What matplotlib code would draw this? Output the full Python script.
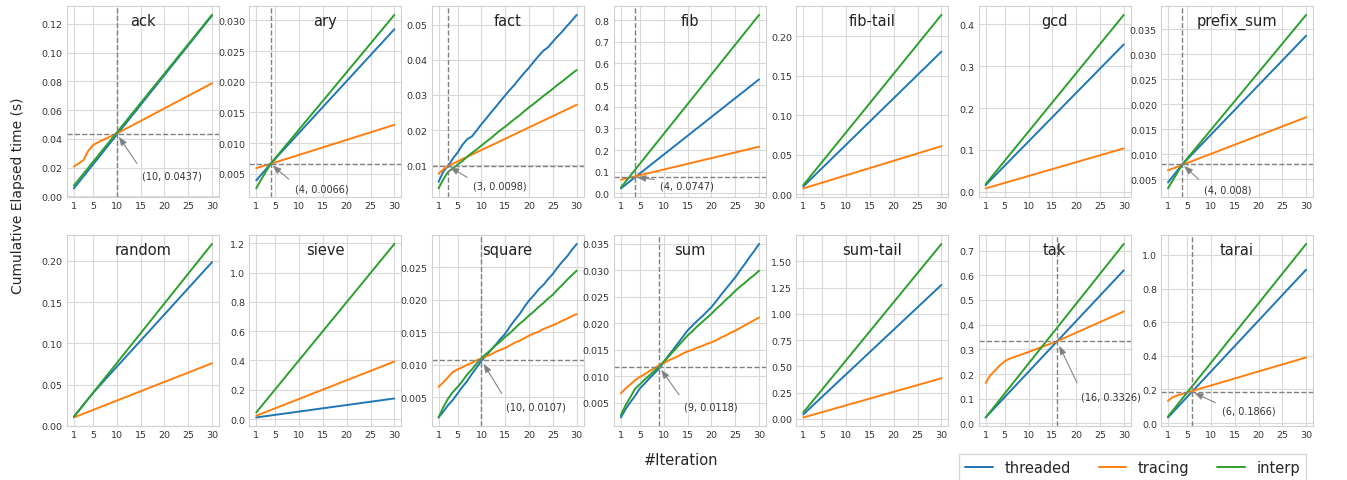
import numpy as np
import matplotlib
matplotlib.use("Agg")
import matplotlib.pyplot as plt
import seaborn as sns

# per-iteration elapsed time (s); plotted as cumulative sums
iters = np.arange(1, 31)
xticks = [1, 5, 10, 15, 20, 25, 30]
series_names = ["threaded", "tracing", "interp"]

ack_thr = [0.0055, 0.0041, 0.0042, 0.0041, 0.0042, 0.0041, 0.0042, 0.0041, 0.0042, 0.0041,
           0.0042, 0.0041, 0.0042, 0.0041, 0.0042, 0.0041, 0.0042, 0.0041, 0.0042, 0.0041,
           0.0042, 0.0041, 0.0042, 0.0041, 0.0042, 0.0041, 0.0042, 0.0041, 0.0042, 0.0041]
ack_trc = [0.0207, 0.0022, 0.0022, 0.0064, 0.0041, 0.0019, 0.0016, 0.0015, 0.0016, 0.0015,
           0.0017, 0.0018, 0.0017, 0.0018, 0.0017, 0.0018, 0.0017, 0.0018, 0.0017, 0.0018,
           0.0017, 0.0018, 0.0017, 0.0018, 0.0017, 0.0018, 0.0017, 0.0018, 0.0017, 0.0018]
ack_int = [0.0075, 0.0040, 0.0042, 0.0040, 0.0042, 0.0040, 0.0042, 0.0040, 0.0042, 0.0040,
           0.0042, 0.0040, 0.0042, 0.0040, 0.0042, 0.0040, 0.0042, 0.0040, 0.0042, 0.0040,
           0.0042, 0.0040, 0.0042, 0.0040, 0.0042, 0.0040, 0.0042, 0.0040, 0.0042, 0.0040]

ary_thr = [0.0039, 0.0009, 0.0009, 0.0009, 0.00084, 0.00085, 0.00084, 0.00085, 0.00084, 0.00085,
           0.00084, 0.00085, 0.00084, 0.00085, 0.00084, 0.00085, 0.00084, 0.00085, 0.00084, 0.00085,
           0.00084, 0.00085, 0.00084, 0.00085, 0.00084, 0.00085, 0.00084, 0.00085, 0.00084, 0.00085]
ary_trc = [0.0059, 0.00024, 0.00023, 0.00023, 0.00025, 0.00024, 0.00025, 0.00024, 0.00025, 0.00024,
           0.00025, 0.00024, 0.00025, 0.00024, 0.00025, 0.00024, 0.00025, 0.00024, 0.00025, 0.00024,
           0.00025, 0.00024, 0.00025, 0.00024, 0.00025, 0.00024, 0.00025, 0.00024, 0.00025, 0.00024]
ary_int = [0.0026, 0.0014, 0.0013, 0.0013, 0.00094, 0.00093, 0.00094, 0.00093, 0.00094, 0.00093,
           0.00094, 0.00093, 0.00094, 0.00093, 0.00094, 0.00093, 0.00094, 0.00093, 0.00094, 0.00093,
           0.00094, 0.00093, 0.00094, 0.00093, 0.00094, 0.00093, 0.00094, 0.00093, 0.00094, 0.00093]

fact_thr = [0.0053, 0.0029, 0.0016, 0.0021, 0.0017, 0.0022, 0.0016, 0.0008, 0.0017, 0.0018,
            0.0016, 0.0017, 0.0016, 0.0017, 0.0016, 0.0016, 0.0015, 0.0017, 0.0016, 0.0015,
            0.0017, 0.0016, 0.0015, 0.0010, 0.0016, 0.0015, 0.0014, 0.0016, 0.0015, 0.0016]
fact_trc = [0.0076, 0.0012, 0.0010, 0.00065, 0.00064, 0.00065, 0.00064, 0.00065, 0.00064, 0.00065,
            0.00064, 0.00065, 0.00064, 0.00065, 0.00064, 0.00065, 0.00064, 0.00065, 0.00064, 0.00065,
            0.00064, 0.00065, 0.00064, 0.00065, 0.00064, 0.00065, 0.00064, 0.00065, 0.00064, 0.00065]
fact_int = [0.0034, 0.0026, 0.0021, 0.0010, 0.0011, 0.0010, 0.0012, 0.0011, 0.0010, 0.0011,
            0.0011, 0.0010, 0.0012, 0.0011, 0.0010, 0.0011, 0.0011, 0.0010, 0.0012, 0.0011,
            0.0010, 0.0011, 0.0011, 0.0010, 0.0011, 0.0011, 0.0010, 0.0011, 0.0011, 0.0010]

fib_thr = [0.0230, 0.0174, 0.0173, 0.0174, 0.0173, 0.0174, 0.0173, 0.0174, 0.0173, 0.0174,
           0.0173, 0.0174, 0.0173, 0.0174, 0.0173, 0.0174, 0.0173, 0.0174, 0.0173, 0.0174,
           0.0173, 0.0174, 0.0173, 0.0174, 0.0173, 0.0174, 0.0173, 0.0174, 0.0173, 0.0174]
fib_trc = [0.0630, 0.0052, 0.0053, 0.0052, 0.0053, 0.0052, 0.0053, 0.0052, 0.0053, 0.0052,
           0.0053, 0.0052, 0.0053, 0.0052, 0.0053, 0.0052, 0.0053, 0.0052, 0.0053, 0.0052,
           0.0053, 0.0052, 0.0053, 0.0052, 0.0053, 0.0052, 0.0053, 0.0052, 0.0053, 0.0052]
fib_int = [0.0276, 0.0274, 0.0275, 0.0274, 0.0275, 0.0274, 0.0275, 0.0274, 0.0275, 0.0274,
           0.0275, 0.0274, 0.0275, 0.0274, 0.0275, 0.0274, 0.0275, 0.0274, 0.0275, 0.0274,
           0.0275, 0.0274, 0.0275, 0.0274, 0.0275, 0.0274, 0.0275, 0.0274, 0.0275, 0.0274]

fibtail_thr = [0.0097, 0.0059, 0.0058, 0.0060, 0.0059, 0.0058, 0.0060, 0.0059, 0.0058, 0.0060,
               0.0059, 0.0058, 0.0060, 0.0059, 0.0058, 0.0060, 0.0059, 0.0058, 0.0060, 0.0059,
               0.0058, 0.0060, 0.0059, 0.0058, 0.0060, 0.0059, 0.0058, 0.0060, 0.0059, 0.0059]
fibtail_trc = [0.0072, 0.0018, 0.0019, 0.0018, 0.0019, 0.0018, 0.0019, 0.0018, 0.0019, 0.0018,
               0.0019, 0.0018, 0.0019, 0.0018, 0.0019, 0.0018, 0.0019, 0.0018, 0.0019, 0.0018,
               0.0019, 0.0018, 0.0019, 0.0018, 0.0019, 0.0018, 0.0019, 0.0018, 0.0019, 0.0018]
fibtail_int = [0.0114, 0.0074, 0.0075, 0.0074, 0.0075, 0.0074, 0.0075, 0.0074, 0.0075, 0.0074,
               0.0075, 0.0074, 0.0075, 0.0074, 0.0075, 0.0074, 0.0075, 0.0074, 0.0075, 0.0074,
               0.0075, 0.0074, 0.0075, 0.0074, 0.0075, 0.0074, 0.0075, 0.0074, 0.0075, 0.0074]

gcd_thr = [0.0158, 0.0116, 0.0115, 0.0117, 0.0116, 0.0115, 0.0117, 0.0116, 0.0115, 0.0117,
           0.0116, 0.0115, 0.0117, 0.0116, 0.0115, 0.0117, 0.0116, 0.0115, 0.0117, 0.0116,
           0.0115, 0.0117, 0.0116, 0.0115, 0.0117, 0.0116, 0.0115, 0.0117, 0.0116, 0.0116]
gcd_trc = [0.0079, 0.0033, 0.0032, 0.0034, 0.0033, 0.0032, 0.0034, 0.0033, 0.0032, 0.0034,
           0.0033, 0.0032, 0.0034, 0.0033, 0.0032, 0.0034, 0.0033, 0.0032, 0.0034, 0.0033,
           0.0032, 0.0034, 0.0033, 0.0032, 0.0034, 0.0033, 0.0032, 0.0034, 0.0033, 0.0033]
gcd_int = [0.0182, 0.0139, 0.0140, 0.0139, 0.0140, 0.0139, 0.0140, 0.0139, 0.0140, 0.0139,
           0.0140, 0.0139, 0.0140, 0.0139, 0.0140, 0.0139, 0.0140, 0.0139, 0.0140, 0.0139,
           0.0140, 0.0139, 0.0140, 0.0139, 0.0140, 0.0139, 0.0140, 0.0139, 0.0140, 0.0139]

prefix_thr = [0.0044, 0.0012, 0.0012, 0.0012, 0.00099, 0.00098, 0.00100, 0.00099, 0.00098, 0.00100,
              0.00099, 0.00098, 0.00100, 0.00099, 0.00098, 0.00100, 0.00099, 0.00098, 0.00100, 0.00099,
              0.00098, 0.00100, 0.00099, 0.00098, 0.00100, 0.00099, 0.00098, 0.00100, 0.00099, 0.00099]
prefix_trc = [0.0068, 0.00037, 0.00036, 0.00037, 0.00037, 0.00036, 0.00037, 0.00037, 0.00036, 0.00037,
              0.00037, 0.00036, 0.00037, 0.00037, 0.00036, 0.00037, 0.00037, 0.00036, 0.00037, 0.00037,
              0.00036, 0.00037, 0.00037, 0.00036, 0.00037, 0.00037, 0.00036, 0.00037, 0.00037, 0.00036]
prefix_int = [0.0032, 0.0016, 0.0016, 0.0016, 0.00115, 0.00114, 0.00116, 0.00115, 0.00114, 0.00116,
              0.00115, 0.00114, 0.00116, 0.00115, 0.00114, 0.00116, 0.00115, 0.00114, 0.00116, 0.00115,
              0.00114, 0.00116, 0.00115, 0.00114, 0.00116, 0.00115, 0.00114, 0.00116, 0.00115, 0.00115]

random_thr = [0.0109, 0.0072, 0.0072, 0.0072, 0.0072, 0.0064, 0.0063, 0.0064, 0.0063, 0.0064,
              0.0063, 0.0064, 0.0063, 0.0064, 0.0063, 0.0064, 0.0063, 0.0064, 0.0063, 0.0064,
              0.0063, 0.0064, 0.0063, 0.0064, 0.0063, 0.0064, 0.0063, 0.0064, 0.0063, 0.0064]
random_trc = [0.0101, 0.0023, 0.0022, 0.0023, 0.0023, 0.0022, 0.0023, 0.0023, 0.0022, 0.0023,
              0.0023, 0.0022, 0.0023, 0.0023, 0.0022, 0.0023, 0.0023, 0.0022, 0.0023, 0.0023,
              0.0022, 0.0023, 0.0023, 0.0022, 0.0023, 0.0023, 0.0022, 0.0023, 0.0023, 0.0022]
random_int = [0.0109, 0.0072, 0.0072, 0.0073, 0.0072, 0.0072, 0.0073, 0.0072, 0.0072, 0.0073,
              0.0072, 0.0072, 0.0073, 0.0072, 0.0072, 0.0073, 0.0072, 0.0072, 0.0073, 0.0072,
              0.0072, 0.0073, 0.0072, 0.0072, 0.0073, 0.0072, 0.0072, 0.0073, 0.0072, 0.0072]

sieve_thr = [0.0113, 0.0045, 0.0044, 0.0045, 0.0045, 0.0044, 0.0045, 0.0045, 0.0044, 0.0045,
             0.0045, 0.0044, 0.0045, 0.0045, 0.0044, 0.0045, 0.0045, 0.0044, 0.0045, 0.0045,
             0.0044, 0.0045, 0.0045, 0.0044, 0.0045, 0.0045, 0.0044, 0.0045, 0.0045, 0.0044]
sieve_trc = [0.0227, 0.0128, 0.0127, 0.0128, 0.0128, 0.0127, 0.0128, 0.0128, 0.0127, 0.0128,
             0.0128, 0.0127, 0.0128, 0.0128, 0.0127, 0.0128, 0.0128, 0.0127, 0.0128, 0.0128,
             0.0127, 0.0128, 0.0128, 0.0127, 0.0128, 0.0128, 0.0127, 0.0128, 0.0128, 0.0127]
sieve_int = [0.0450, 0.0397, 0.0396, 0.0397, 0.0397, 0.0396, 0.0397, 0.0397, 0.0396, 0.0397,
             0.0397, 0.0396, 0.0397, 0.0397, 0.0396, 0.0397, 0.0397, 0.0396, 0.0397, 0.0397,
             0.0396, 0.0397, 0.0397, 0.0396, 0.0397, 0.0397, 0.0396, 0.0397, 0.0397, 0.0396]

square_thr = [0.0019, 0.0009, 0.0010, 0.0008, 0.0010, 0.0010, 0.0009, 0.0011, 0.0010, 0.0010,
              0.0008, 0.0009, 0.0008, 0.0009, 0.0008, 0.0011, 0.0010, 0.0009, 0.0011, 0.0010,
              0.0008, 0.0009, 0.0007, 0.0009, 0.0008, 0.0010, 0.0009, 0.0008, 0.0010, 0.0009]
square_trc = [0.0066, 0.0007, 0.0008, 0.0008, 0.0004, 0.0003, 0.0004, 0.0003, 0.0004, 0.0003,
              0.0003, 0.0003, 0.0004, 0.0003, 0.0003, 0.0004, 0.0004, 0.0003, 0.0004, 0.0004,
              0.0003, 0.0003, 0.0004, 0.0003, 0.0003, 0.0003, 0.0004, 0.0003, 0.0004, 0.0003]
square_int = [0.0019, 0.0016, 0.0013, 0.0010, 0.0008, 0.0009, 0.0010, 0.0008, 0.0009, 0.0008,
              0.0007, 0.0006, 0.0007, 0.0006, 0.0007, 0.0006, 0.0007, 0.0007, 0.0006, 0.0007,
              0.0006, 0.0007, 0.0006, 0.0007, 0.0006, 0.0008, 0.0007, 0.0008, 0.0007, 0.0007]

sum_thr = [0.00225, 0.0016, 0.0013, 0.0012, 0.0014, 0.0009, 0.0010, 0.0009, 0.0009, 0.0012,
           0.0013, 0.0011, 0.0012, 0.0012, 0.0012, 0.0009, 0.0009, 0.0008, 0.0009, 0.0009,
           0.0011, 0.0012, 0.0011, 0.0011, 0.0011, 0.0013, 0.0012, 0.0013, 0.0012, 0.0013]
sum_trc = [0.0068, 0.0009, 0.0008, 0.0008, 0.0006, 0.0005, 0.0006, 0.0005, 0.0006, 0.0004,
           0.0005, 0.0004, 0.0004, 0.0005, 0.0004, 0.0003, 0.0004, 0.0003, 0.0004, 0.0003,
           0.0004, 0.0005, 0.0004, 0.0005, 0.0004, 0.0005, 0.0005, 0.0005, 0.0005, 0.0005]
sum_int = [0.0027, 0.0019, 0.0015, 0.0016, 0.0008, 0.0009, 0.0008, 0.0008, 0.0008, 0.0010,
           0.0009, 0.0010, 0.0010, 0.0010, 0.0010, 0.0008, 0.0009, 0.0008, 0.0008, 0.0008,
           0.0009, 0.0008, 0.0009, 0.0008, 0.0009, 0.0008, 0.0007, 0.0008, 0.0007, 0.0008]

sumtail_thr = [0.0410, 0.0426, 0.0425, 0.0426, 0.0425, 0.0426, 0.0425, 0.0426, 0.0425, 0.0426,
               0.0425, 0.0426, 0.0425, 0.0426, 0.0425, 0.0426, 0.0425, 0.0426, 0.0425, 0.0426,
               0.0425, 0.0426, 0.0425, 0.0426, 0.0425, 0.0426, 0.0425, 0.0426, 0.0425, 0.0426]
sumtail_trc = [0.0127, 0.0129, 0.0128, 0.0129, 0.0129, 0.0128, 0.0129, 0.0129, 0.0128, 0.0129,
               0.0129, 0.0128, 0.0129, 0.0129, 0.0128, 0.0129, 0.0129, 0.0128, 0.0129, 0.0129,
               0.0128, 0.0129, 0.0129, 0.0128, 0.0129, 0.0129, 0.0128, 0.0129, 0.0129, 0.0128]
sumtail_int = [0.0600, 0.0553, 0.0554, 0.0553, 0.0554, 0.0553, 0.0554, 0.0553, 0.0554, 0.0553,
               0.0554, 0.0553, 0.0554, 0.0553, 0.0554, 0.0553, 0.0554, 0.0553, 0.0554, 0.0553,
               0.0554, 0.0553, 0.0554, 0.0553, 0.0554, 0.0553, 0.0554, 0.0553, 0.0554, 0.0553]

tak_thr = [0.0242, 0.0206, 0.0205, 0.0206, 0.0205, 0.0206, 0.0205, 0.0206, 0.0205, 0.0206,
           0.0205, 0.0206, 0.0205, 0.0206, 0.0205, 0.0206, 0.0205, 0.0206, 0.0205, 0.0206,
           0.0205, 0.0206, 0.0205, 0.0206, 0.0205, 0.0206, 0.0205, 0.0206, 0.0205, 0.0206]
tak_trc = [0.1640, 0.0310, 0.0200, 0.0205, 0.0162, 0.0103, 0.0068, 0.0068, 0.0068, 0.0068,
           0.0073, 0.0073, 0.0073, 0.0073, 0.0073, 0.0073, 0.0086, 0.0086, 0.0086, 0.0086,
           0.0086, 0.0086, 0.0086, 0.0086, 0.0086, 0.0086, 0.0086, 0.0086, 0.0086, 0.0086]
tak_int = [0.0242, 0.0242, 0.0243, 0.0242, 0.0242, 0.0243, 0.0242, 0.0242, 0.0243, 0.0242,
           0.0242, 0.0243, 0.0242, 0.0242, 0.0243, 0.0242, 0.0242, 0.0243, 0.0242, 0.0242,
           0.0243, 0.0242, 0.0242, 0.0243, 0.0242, 0.0242, 0.0243, 0.0242, 0.0242, 0.0243]

tarai_thr = [0.0335, 0.0303, 0.0303, 0.0303, 0.0303, 0.0303, 0.0303, 0.0303, 0.0303, 0.0303,
             0.0303, 0.0303, 0.0303, 0.0303, 0.0303, 0.0303, 0.0303, 0.0303, 0.0303, 0.0303,
             0.0303, 0.0303, 0.0303, 0.0303, 0.0303, 0.0303, 0.0303, 0.0303, 0.0303, 0.0303]
tarai_trc = [0.1320, 0.0220, 0.0110, 0.0083, 0.0083, 0.0084, 0.0083, 0.0084, 0.0083, 0.0084,
             0.0083, 0.0084, 0.0083, 0.0084, 0.0083, 0.0084, 0.0083, 0.0084, 0.0083, 0.0084,
             0.0083, 0.0084, 0.0083, 0.0084, 0.0083, 0.0084, 0.0083, 0.0084, 0.0083, 0.0084]
tarai_int = [0.0394, 0.0354, 0.0353, 0.0354, 0.0354, 0.0353, 0.0354, 0.0354, 0.0353, 0.0354,
             0.0354, 0.0353, 0.0354, 0.0354, 0.0353, 0.0354, 0.0354, 0.0353, 0.0354, 0.0354,
             0.0353, 0.0354, 0.0354, 0.0353, 0.0354, 0.0354, 0.0353, 0.0354, 0.0354, 0.0353]

benchmarks = [
    ("ack", ack_thr, ack_trc, ack_int),
    ("ary", ary_thr, ary_trc, ary_int),
    ("fact", fact_thr, fact_trc, fact_int),
    ("fib", fib_thr, fib_trc, fib_int),
    ("fib-tail", fibtail_thr, fibtail_trc, fibtail_int),
    ("gcd", gcd_thr, gcd_trc, gcd_int),
    ("prefix_sum", prefix_thr, prefix_trc, prefix_int),
    ("random", random_thr, random_trc, random_int),
    ("sieve", sieve_thr, sieve_trc, sieve_int),
    ("square", square_thr, square_trc, square_int),
    ("sum", sum_thr, sum_trc, sum_int),
    ("sum-tail", sumtail_thr, sumtail_trc, sumtail_int),
    ("tak", tak_thr, tak_trc, tak_int),
    ("tarai", tarai_thr, tarai_trc, tarai_int),
]

# break-even points marked on the chart
crossings = {
    "ack": (10, 0.0437),
    "ary": (4, 0.0066),
    "fact": (3, 0.0098),
    "fib": (4, 0.0747),
    "prefix_sum": (4, 0.008),
    "square": (10, 0.0107),
    "sum": (9, 0.0118),
    "tak": (16, 0.3326),
    "tarai": (6, 0.1866),
}
# label offsets in pixels
label_off = {
    "ack": (25, -42), "ary": (24, -25), "fact": (25, -20), "fib": (25, -8),
    "prefix_sum": (22, -25), "square": (25, -46), "sum": (25, -40),
    "tak": (24, -55), "tarai": (30, -19),
}

sns.set_style("whitegrid")
plt.rcParams["font.family"] = ["DejaVu Sans"]
plt.rcParams["grid.linewidth"] = 0.8
plt.rcParams["grid.color"] = "#d9d9d9"
plt.rcParams["axes.edgecolor"] = "#d0d0d0"

colors = ["#1f77b4", "#ff7f0e", "#2ca02c"]

fig, axes = plt.subplots(2, 7, figsize=(13.47, 4.81), dpi=100)
fig.subplots_adjust(left=0.0497, right=0.9748, top=0.985, bottom=0.112,
                    wspace=0.2, hspace=0.2)

for ax, (name, thr, trc, itp) in zip(axes.flat, benchmarks):
    for vals, lab, c in zip([thr, trc, itp], series_names, colors):
        ax.plot(iters, np.cumsum(vals), color=c, lw=1.4, label=lab)
    ax.set_xticks(xticks)
    ax.tick_params(axis="both", labelsize=6.8, length=0, pad=3, colors="#333333")
    ax.text(0.5, 0.965, name, transform=ax.transAxes, ha="center", va="top",
            fontsize=10.5, color="#222222")
    if name in crossings:
        cx, cy = crossings[name]
        ax.axvline(cx, color="gray", ls="--", lw=1)
        ax.axhline(cy, color="gray", ls="--", lw=1)
        ax.annotate("(%g, %g)" % (cx, cy), xy=(cx, cy), xytext=label_off[name],
                    textcoords="offset pixels", ha="left", va="center",
                    fontsize=7, color="#333333",
                    arrowprops=dict(facecolor="gray", edgecolor="gray", lw=0.3,
                                    shrink=0.1, width=0.4, headwidth=4.5,
                                    headlength=6))

fig.text(0.013, 0.5925, "Cumulative Elapsed time (s)", rotation=90,
         ha="center", va="center", fontsize=10)
fig.text(0.506, 0.0416, "#Iteration", ha="center", va="center", fontsize=10.5)

handles, labels = axes[0, 0].get_legend_handles_labels()
fig.legend(handles, labels, loc="upper right", bbox_to_anchor=(0.9696, 0.0541),
           ncol=3, fontsize=10.5, frameon=True, edgecolor="#cccccc",
           fancybox=False, borderaxespad=0, columnspacing=1.9, handlelength=1.9)

plt.savefig("out.png", dpi=100)
